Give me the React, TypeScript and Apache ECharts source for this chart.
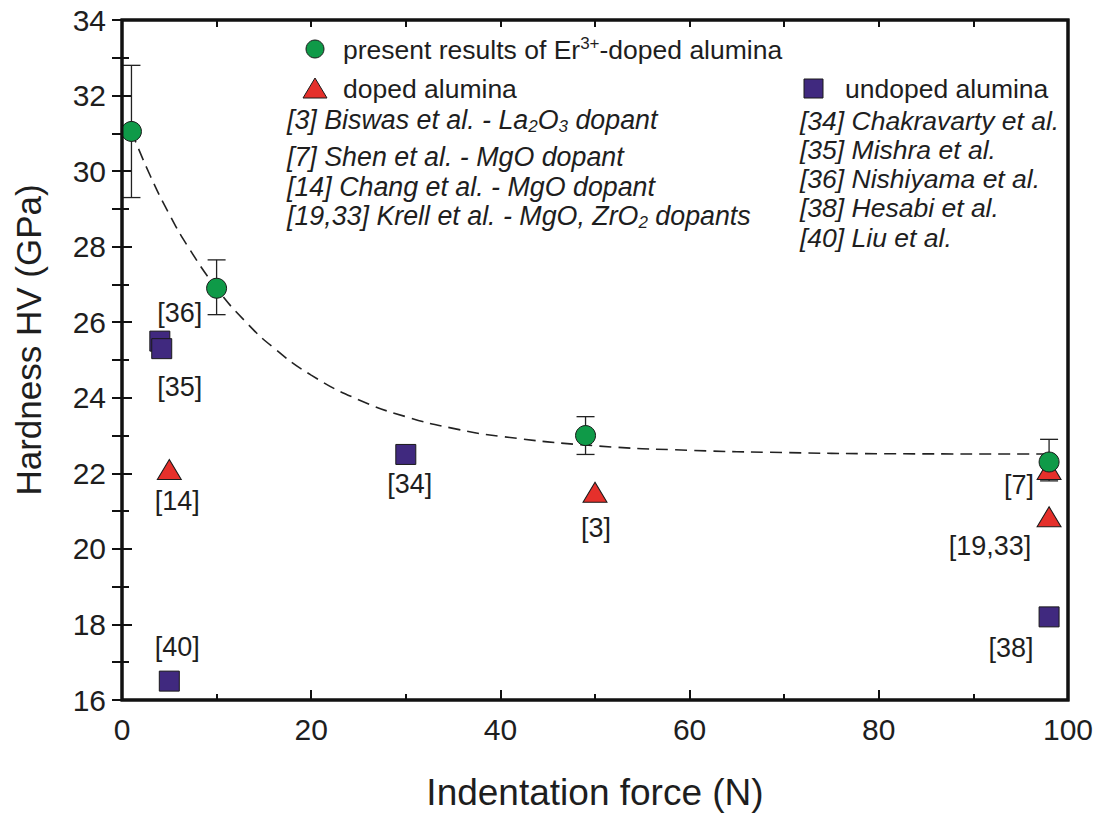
import React, { useEffect, useRef } from "react";
import * as echarts from "echarts";

// Present results (Er3+-doped alumina) with error bars
const presentForce = [1, 10, 49, 98];
const presentHV = [31.05, 26.9, 23.0, 22.3];
const presentErrLow = [29.3, 26.2, 22.5, 21.8];
const presentErrHigh = [32.8, 27.65, 23.5, 22.9];

// Doped alumina (literature)
const dopedForce = [5, 50, 98, 98];
const dopedHV = [22.1, 21.5, 22.1, 20.85];
const dopedRefs = ["[14]", "[3]", "[7]", "[19,33]"];

// Undoped alumina (literature)
const undopedForce = [4, 4.2, 30, 5, 98];
const undopedHV = [25.5, 25.3, 22.5, 16.5, 18.2];
const undopedRefs = ["[36]", "[35]", "[34]", "[40]", "[38]"];

// Dashed fit curve
const fitForce = [1, 3, 5, 7, 10, 13, 16, 20, 25, 30, 35, 40, 50, 60, 70, 80, 98];
const fitHV = [31.05, 29.87, 28.86, 27.99, 26.9, 26.03, 25.33, 24.6, 23.95, 23.5, 23.19, 22.98, 22.73, 22.61, 22.55, 22.52, 22.51];

const xTicks = [0, 20, 40, 60, 80, 100];
const yTicks = [16, 18, 20, 22, 24, 26, 28, 30, 32, 34];

const legendRefsDoped = [
  "{i|[3] Biswas et al. - La}{isub|2}{i|O}{isub|3}{i| dopant}",
  "{i|[7] Shen et al. - MgO dopant}",
  "{i|[14] Chang et al. - MgO dopant}",
  "{i|[19,33] Krell et al. - MgO, ZrO}{isub|2}{i| dopants}",
];
const legendRefsUndoped = [
  "[34] Chakravarty et al.",
  "[35] Mishra et al.",
  "[36] Nishiyama et al.",
  "[38] Hesabi et al.",
  "[40] Liu et al.",
];

const GREEN = "#0f9a48";
const RED = "#e5302b";
const PURPLE = "#40297f";
const EDGE = "#1a1a1a";
const FONT = "'Liberation Sans', Arial, sans-serif";
const TXT = "#1e1e1e";

const dopedLabelOffsets: Record<string, number[]> = {
  "[14]": [8, 31],
  "[3]": [1, 36],
  "[7]": [-30, 15],
  "[19,33]": [-59, 29],
};
const undopedLabelOffsets: Record<string, number[]> = {
  "[36]": [20, -28],
  "[35]": [18, 38],
  "[34]": [4, 30],
  "[40]": [8, -34],
  "[38]": [-38, 31],
};

const G_LEFT = 122;
const G_TOP = 20;
const G_RIGHT = 33;
const G_BOTTOM = 123;

export default function App() {
  const ref = useRef<HTMLDivElement>(null);
  useEffect(() => {
    if (!ref.current) return;
    const chart = echarts.init(ref.current, null, { renderer: "svg" });

    const refLabel = (text: string, off: number[]) => ({
      show: true,
      formatter: text,
      position: "inside",
      offset: off,
      color: TXT,
      fontSize: 27,
      fontFamily: FONT,
      align: "center",
      verticalAlign: "middle",
    });

    const LF = 26.5;
    const richDoped = {
      i: { fontSize: 26.8, fontStyle: "italic", fontFamily: FONT, fill: TXT, lineHeight: 30 },
      isub: { fontSize: 17, fontStyle: "italic", fontFamily: FONT, fill: TXT, verticalAlign: "bottom", lineHeight: 17 },
    };

    const graphics: any[] = [
      // plot frame
      {
        type: "rect",
        shape: { x: G_LEFT, y: G_TOP, width: 1101 - G_LEFT - G_RIGHT, height: 823 - G_TOP - G_BOTTOM },
        style: { fill: "none", stroke: "#111", lineWidth: 3 },
        z: 20,
        silent: true,
      },
      // legend: present results
      { type: "circle", shape: { cx: 315, cy: 49, r: 9 }, style: { fill: GREEN, stroke: EDGE, lineWidth: 1 }, z: 10 },
      {
        type: "text",
        x: 343,
        y: 50,
        style: {
          text: "{n|present results of Er}{sup|3+}{n|-doped alumina}",
          verticalAlign: "middle",
          rich: {
            n: { fontSize: LF, fontFamily: FONT, fill: TXT, lineHeight: 30 },
            sup: { fontSize: 17, fontFamily: FONT, fill: TXT, verticalAlign: "top", lineHeight: 17 },
          },
        },
        z: 10,
      },
      // legend: doped alumina
      { type: "polygon", shape: { points: [[315, 78], [327, 98], [303, 98]] }, style: { fill: RED, stroke: EDGE, lineWidth: 1 }, z: 10 },
      { type: "text", x: 343, y: 89, style: { text: "doped alumina", fontSize: LF, fontFamily: FONT, fill: TXT, verticalAlign: "middle" }, z: 10 },
      // legend: undoped alumina
      { type: "rect", shape: { x: 804, y: 79, width: 19, height: 19 }, style: { fill: PURPLE, stroke: EDGE, lineWidth: 1 }, z: 10 },
      { type: "text", x: 845, y: 89, style: { text: "undoped alumina", fontSize: LF, fontFamily: FONT, fill: TXT, verticalAlign: "middle" }, z: 10 },
    ];
    const dopedYs = [120, 157, 187, 216];
    legendRefsDoped.forEach((t, k) => {
      graphics.push({
        type: "text",
        x: 287,
        y: dopedYs[k],
        style: { text: t, verticalAlign: "middle", rich: richDoped },
        z: 10,
      });
    });
    const undopedYs = [121, 150, 179, 208, 238];
    legendRefsUndoped.forEach((t, k) => {
      graphics.push({
        type: "text",
        x: 800,
        y: undopedYs[k],
        style: { text: t, fontSize: LF, fontStyle: "italic", fontFamily: FONT, fill: TXT, verticalAlign: "middle" },
        z: 10,
      });
    });

    const noLine = { show: false };
    const tickStyle = { color: "#111", width: 2 };

    chart.setOption({
      animation: false,
      backgroundColor: "#fff",
      grid: {
        left: G_LEFT,
        top: G_TOP,
        right: G_RIGHT,
        bottom: G_BOTTOM,
        containLabel: false,
        show: true,
        borderColor: "#111",
        borderWidth: 3,
        backgroundColor: "transparent",
      },
      xAxis: [
        {
          type: "value",
          min: 0,
          max: 100,
          interval: 20,
          position: "bottom",
          axisLine: noLine,
          axisTick: { show: true, inside: true, length: 10, lineStyle: tickStyle },
          minorTick: { show: true, splitNumber: 2, length: 6, lineStyle: tickStyle },
          splitLine: { show: false },
          axisLabel: { color: TXT, fontSize: 30, fontFamily: FONT, margin: 14, formatter: (v: number) => (xTicks.includes(v) ? String(v) : "") },
          name: "Indentation force (N)",
          nameLocation: "middle",
          nameGap: 74,
          nameTextStyle: { color: TXT, fontSize: 37, fontFamily: FONT },
        },
        {
          type: "value",
          min: 0,
          max: 100,
          interval: 10,
          position: "top",
          axisLine: noLine,
          axisTick: { show: true, inside: true, length: 7, lineStyle: tickStyle },
          splitLine: { show: false },
          axisLabel: { show: false },
        },
      ],
      yAxis: [
        {
          type: "value",
          min: 16,
          max: 34,
          interval: 2,
          position: "left",
          axisLine: noLine,
          axisTick: { show: true, inside: true, length: 10, lineStyle: tickStyle },
          minorTick: { show: true, splitNumber: 2, length: 7, lineStyle: tickStyle },
          splitLine: { show: false },
          axisLabel: { color: TXT, fontSize: 30, fontFamily: FONT, margin: 16, formatter: (v: number) => (yTicks.includes(v) ? String(v) : "") },
          name: "Hardness HV (GPa)",
          nameLocation: "middle",
          nameGap: 76,
          nameTextStyle: { color: TXT, fontSize: 35, fontFamily: FONT, padding: [0, 0, 0, 40] },
        },
        {
          type: "value",
          min: 16,
          max: 34,
          interval: 1,
          position: "right",
          axisLine: noLine,
          axisTick: { show: true, inside: true, length: 10, lineStyle: tickStyle },
          splitLine: { show: false },
          axisLabel: { show: false },
        },
      ],
      graphic: graphics,
      series: [
        {
          type: "line",
          name: "fit",
          data: fitForce.map((x, k) => [x, fitHV[k]]),
          smooth: true,
          showSymbol: false,
          symbol: "none",
          lineStyle: { color: "#222", width: 1.6, type: [12, 7] },
          z: 1,
        },
        {
          type: "custom",
          name: "errors",
          data: presentForce.map((x, k) => [x, presentErrLow[k], presentErrHigh[k]]),
          renderItem: (params: any, api: any) => {
            const x = api.value(0);
            const lo = api.coord([x, api.value(1)]);
            const hi = api.coord([x, api.value(2)]);
            const w = 9;
            const st = { stroke: "#222", lineWidth: 1.3 };
            return {
              type: "group",
              children: [
                { type: "line", shape: { x1: lo[0], y1: lo[1], x2: hi[0], y2: hi[1] }, style: st },
                { type: "line", shape: { x1: lo[0] - w, y1: lo[1], x2: lo[0] + w, y2: lo[1] }, style: st },
                { type: "line", shape: { x1: hi[0] - w, y1: hi[1], x2: hi[0] + w, y2: hi[1] }, style: st },
              ],
            };
          },
          z: 2,
        },
        {
          type: "scatter",
          name: "undoped alumina",
          symbol: "rect",
          symbolSize: 20,
          itemStyle: { color: PURPLE, borderColor: EDGE, borderWidth: 1, opacity: 1 },
          data: undopedForce.map((x, k) => ({
            value: [x, undopedHV[k]],
            label: refLabel(undopedRefs[k], undopedLabelOffsets[undopedRefs[k]]),
          })),
          z: 3,
        },
        {
          type: "scatter",
          name: "doped alumina",
          symbol: "triangle",
          symbolSize: [24, 20],
          itemStyle: { color: RED, borderColor: EDGE, borderWidth: 1, opacity: 1 },
          data: dopedForce.map((x, k) => ({
            value: [x, dopedHV[k]],
            label: refLabel(dopedRefs[k], dopedLabelOffsets[dopedRefs[k]]),
          })),
          z: 4,
        },
        {
          type: "scatter",
          name: "present results",
          symbol: "circle",
          symbolSize: 20,
          itemStyle: { color: GREEN, borderColor: EDGE, borderWidth: 1, opacity: 1 },
          data: presentForce.map((x, k) => [x, presentHV[k]]),
          z: 5,
        },
      ],
    });
    return () => chart.dispose();
  }, []);
  return <div ref={ref} style={{ width: 1101, height: 823, position: "absolute", left: 0, top: 0 }} />;
}
